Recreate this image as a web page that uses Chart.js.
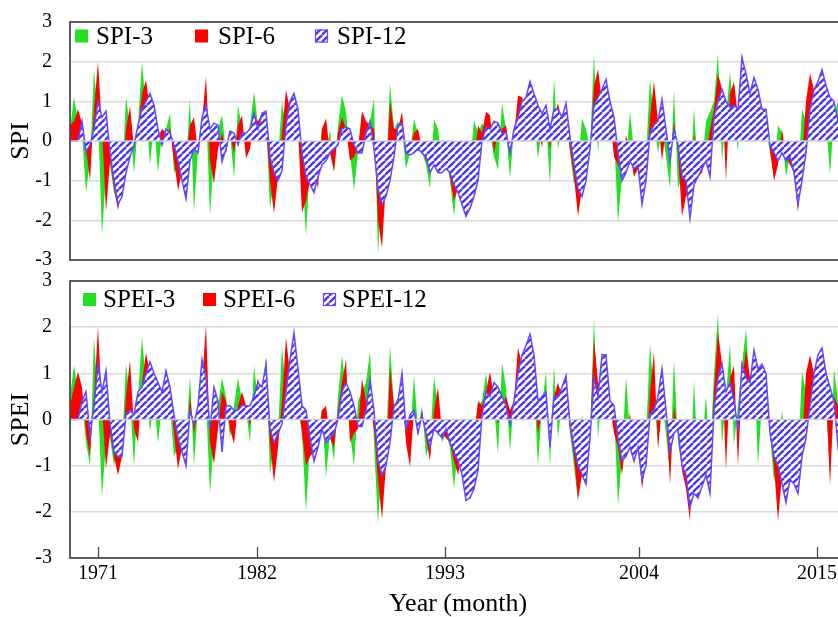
<!DOCTYPE html>
<html>
<head>
<meta charset="utf-8">
<script src="https://cdn.jsdelivr.net/npm/chart.js@4.4.1/dist/chart.umd.min.js"></script>
<style>
html,body{margin:0;padding:0;background:#fff;overflow:hidden;width:838px;height:617px;}
#c1{position:absolute;left:0;top:0;}
#c2{position:absolute;left:0;top:268px;}
</style>
</head>
<body>
<canvas id="c1" width="846" height="268"></canvas>
<canvas id="c2" width="846" height="349"></canvas>
<script>
// ---- Data (sample index along the month axis) ----
const SPI3 = [0.3,1.1,0.5,0.2,-1.3,-0.5,1.8,0.6,-2.37,-0.8,-0.6,-1.3,-1.6,-1.0,1.1,0.4,-0.8,0.4,2.0,0.8,-0.6,0.5,-0.8,0.2,0.3,0.7,-0.8,-0.6,-0.9,-0.6,1.07,-1.78,-0.2,0.5,0.9,-1.9,-0.3,0.3,0.65,-0.3,0.2,-0.94,0.9,0.3,-0.2,0.4,1.24,0.4,
0.3,0.5,-1.7,-1.0,-0.4,1.0,0.3,0.5,0.3,0.2,-0.6,-2.4,-0.5,-1.0,-0.8,0.4,-0.3,0.28,-0.77,0.4,1.16,0.74,-0.3,-1.24,-0.3,0.7,0.3,0.5,1.07,-2.87,-1.0,-0.8,1.45,0.3,0.5,0.3,-0.7,-0.3,0.55,0.2,-0.3,-0.6,-1.2,0.55,0.3,-0.5,-0.4,-1.0,-1.9,
-0.8,-0.5,-0.3,-0.6,0.53,0.2,0.45,0.3,0.2,-0.4,-0.73,0.95,0.3,-0.94,0.3,0.9,0.6,0.5,0.9,0.6,-0.44,0.4,0.5,-1.1,1.58,-0.2,0.4,0.6,-0.3,-1.1,-0.7,0.57,0.3,-0.2,2.2,-0.3,0.8,0.7,0.5,0.2,-2.05,-0.9,-0.5,0.74,-0.3,-0.5,-0.6,-0.4,
1.58,0.5,-0.3,0.3,-0.4,-1.2,1.28,-1.2,-0.9,-0.7,-1.2,0.82,-0.8,-0.6,0.49,0.74,1.0,2.2,-0.5,0.6,1.75,0.5,-0.25,2.25,0.8,0.6,0.4,0.3,0.5,0.3,-0.3,-0.9,0.4,0.2,-0.9,-0.4,-0.6,-1.0,0.8,0.5,1.2,0.8,0.6,0.8,0.5,-0.85,0.6,1.0,0.5,0.3];

const SPI6 = [0.4,0.5,0.8,0.45,-0.2,-1.0,0.8,2.0,0.3,-1.78,-0.5,-1.2,-1.74,-1.2,0.3,0.87,-0.2,0.3,1.2,1.54,0.8,0.4,0.1,0.3,0.2,0.3,-0.5,-1.24,-0.8,-0.4,0.4,0.6,-0.3,0.5,1.62,-0.5,-1.07,-0.2,0.2,-0.3,0.2,-0.3,0.4,0.65,-0.44,-0.2,0.6,0.5,
0.7,0.4,-1.0,-1.82,-0.9,0.2,1.29,0.8,0.6,0.3,-1.8,-1.5,-1.0,-0.7,-1.2,0.3,0.57,-0.3,-0.77,0.2,0.6,0.3,-0.5,-0.4,-0.2,0.75,0.5,0.4,0.3,-2.0,-2.7,-1.0,1.0,0.3,0.3,0.74,-0.3,-0.2,0.2,0.3,-0.2,-0.5,-0.8,-0.4,-0.3,-0.7,-0.5,-0.9,-1.5,
-1.2,-0.6,-0.4,-0.7,-0.5,0.4,0.2,0.74,0.65,-0.3,0.2,0.3,0.4,-0.3,0.1,1.15,1.1,0.8,1.0,0.8,0.3,-0.15,0.6,-0.2,0.6,0.95,0.5,0.7,-0.2,-0.9,-1.9,-1.2,-0.6,-0.3,1.4,1.8,1.0,0.9,0.6,-0.4,-0.6,-0.8,0.15,-0.3,-0.9,-0.7,-1.2,-0.8,
0.6,1.5,0.5,-0.5,0.3,-0.5,0.5,-0.3,-1.9,-1.4,-1.3,0.2,-0.9,-0.8,-0.4,0.3,0.8,1.7,1.3,-1.0,1.2,1.5,0.6,1.0,1.6,0.9,0.8,0.6,0.6,0.5,-0.2,-1.0,-0.6,0.3,-0.4,-0.6,-0.8,-1.8,-0.5,1.0,1.7,1.3,1.0,1.2,0.8,0.5,0.8,0.6,0.6,0.4];

const SPI12 = [0,0,0,0.5,-0.27,-0.1,0.3,1.0,0.6,0.75,-0.3,-1.0,-1.6,-1.4,-0.8,-0.4,-0.1,0.4,0.8,1.0,1.2,0.9,0.3,-0.1,0.3,0.2,-0.1,-0.5,-1.0,-1.45,-0.5,-0.2,-0.3,0.6,0.9,0.3,0.45,0.4,-0.52,-0.2,0.25,0.2,-0.1,0.2,0.2,0.3,0.7,0.3,
0.7,0.75,-0.4,-0.8,-1.0,-0.75,0.4,1.0,1.2,0.8,-0.3,-0.9,-1.1,-1.3,-0.9,-0.6,-0.5,-0.3,-0.2,-0.1,0.3,0.35,0.3,-0.1,-0.3,-0.3,0.2,0.5,-0.2,-1.2,-1.6,-1.4,-1.0,-0.4,0.4,0.45,-0.3,-0.35,-0.3,-0.2,-0.3,-0.4,-0.8,-0.6,-0.8,-0.8,-0.7,-0.8,-1.1,
-1.3,-1.6,-1.9,-1.7,-1.4,-1.0,0,0.35,0.3,0.5,0.45,0.2,0.2,-0.3,0.3,0.6,1.0,1.1,1.5,1.2,0.9,0.7,0.9,0.3,0.8,0.8,0.6,0.95,0.1,-0.6,-1.2,-1.4,-1.0,-0.2,0.9,1.1,1.3,1.55,1.0,0.6,-0.3,-1.0,-0.8,-0.5,-0.7,-0.6,-1.6,-1.0,
0.2,0.4,0.5,1.05,0.3,-0.5,0.3,-0.1,-0.9,-1.0,-1.95,-1.1,-0.9,-0.7,-0.5,-0.9,0.6,1.0,1.3,1.0,0.85,0.9,0.8,2.1,1.7,1.2,1.6,1.3,0.8,0.8,-0.1,-0.3,-0.5,-0.3,-0.5,-0.4,-0.8,-1.6,-1.0,-0.3,0.8,1.3,1.5,1.8,1.4,1.1,1.0,0.5,0.7,0.8];

const SPEI3 = [0.5,1.17,0.6,0.4,-0.5,-1.0,1.78,0.4,-1.68,-0.5,-0.4,-1.0,-0.5,-0.6,1.2,0.4,-1.0,0.5,1.78,0.8,-0.27,0.4,-0.5,0.3,0.5,0.3,-0.8,-0.6,-0.3,-0.5,0.95,-1.0,0.3,1.17,0.4,-1.6,-0.4,0.3,0.9,0.5,-0.4,0.3,0.9,0.4,0.2,-0.5,1.17,0.4,
0.5,1.35,-1.2,-0.5,-0.3,1.6,0.5,0.4,0.3,0.2,-0.3,-2.0,-0.5,-0.6,-0.4,0.27,-1.25,-0.3,-0.9,0.5,1.39,0.6,-0.3,-1.0,0.4,0.6,0.8,1.47,-0.5,-2.26,-0.8,-0.6,1.6,0.3,0.5,0.4,-0.3,-0.4,0.95,-0.2,0.3,-0.8,-0.5,0.92,0.3,-0.5,-0.3,-0.6,-1.5,
-0.6,-0.4,-0.3,-0.5,-0.3,0.3,0.4,1.0,0.3,0.3,-0.75,1.23,0.7,-0.7,0.5,0.8,1.3,0.8,0.9,0.7,-1.0,0.3,1.03,-1.03,1.17,-0.4,0.4,0.6,-0.3,-1.0,-1.8,0.1,-0.5,-0.3,2.2,-0.4,0.6,0.5,0.3,0.2,-1.86,-0.8,0.92,-0.3,-0.4,-0.5,-0.6,-0.4,
1.64,0.5,-0.56,0.4,-0.3,-1.18,1.3,-0.5,-1.0,-1.2,-1.5,0.85,-1.0,-0.6,0.5,-0.8,1.0,2.3,-0.56,0.5,1.64,-0.56,0.3,1.2,1.96,0.6,1.3,-1.0,0.4,0.5,-0.3,-1.36,-0.8,0.2,-0.6,-0.6,-0.7,-0.8,1.03,0.6,0.8,0.5,0.4,0.5,0.3,-1.2,1.1,0.4,0.3,0.2];

const SPEI6 = [0.3,0.7,1.03,0.7,-0.3,-0.78,0.5,2.0,0.3,-1.07,-0.3,-0.8,-1.2,-0.8,0.5,1.28,-0.2,-0.5,0.8,1.45,1.0,0.8,0.3,0.5,1.1,0.6,-0.3,-1.07,-0.6,-0.8,0.5,-0.3,0.2,0.8,2.04,-0.5,-0.96,-0.2,0.6,0.4,-0.2,-0.53,0.3,0.6,0.3,-0.15,0.5,0.9,
0.4,0.6,-0.5,-1.36,-0.6,0.4,1.78,1.0,0.8,0.6,-0.3,-1.0,-0.8,-0.7,-0.5,0.2,0.3,-0.4,-0.6,0.2,0.8,1.3,-0.5,-0.3,-0.2,0.88,0.4,0.3,-0.2,-1.3,-2.15,-1.0,1.13,0.3,0.4,0.6,-0.5,-1.03,0.2,-0.3,0.2,-0.4,-0.9,0.2,0.7,-0.3,-0.4,-0.5,-0.9,
-1.2,-0.7,-0.5,-0.6,-0.4,0.4,0.3,0.6,1.03,0.5,-0.1,0.3,0.5,0.2,0.4,1.56,1.2,1.0,1.2,0.8,-0.3,0.2,0.3,-0.2,0.5,0.8,0.5,0.4,-0.2,-0.8,-1.72,-1.2,-0.8,-0.4,1.75,0.8,0.7,0.6,0.3,-0.3,-0.6,-1.2,-0.4,0.15,-0.8,-0.5,-1.5,-0.9,
0.6,1.46,-0.64,0.3,0.2,-1.4,0.3,-0.3,-1.1,-1.5,-2.2,0.1,-1.3,-0.8,-0.9,-1.2,0.6,1.9,1.2,-1.1,0.9,1.17,-1.0,0.8,1.53,0.9,0.8,0.6,0.5,0.7,-0.3,-1.0,-2.2,-1.2,-1.0,-0.8,-0.8,-1.0,-0.5,1.0,1.39,1.0,0.8,0.7,0.6,-1.43,0.5,0.3,0.2,0.2];

const SPEI12 = [0,0,0,0.4,0.6,-0.35,0.3,1.2,0.6,1.05,-0.1,-0.7,-0.8,-0.8,0.1,0.2,0.1,0.6,0.7,1.0,1.25,1.0,0.8,0.6,1.05,0.7,0.1,-0.4,-0.7,-1.0,0.2,-0.1,0.3,1.3,0.9,-0.2,0.7,0.4,-0.7,0.3,0.3,0.2,0.2,0.3,0.3,0.3,0.5,0.8,
0.7,1.2,-0.2,-0.5,-0.3,-0.1,0.6,1.3,1.88,1.1,0.3,0.2,-0.4,-0.9,-0.6,-0.2,-0.5,-0.4,-0.3,0,0.6,0.8,0.6,0.3,-0.15,-0.15,0.2,0.85,0.2,-0.9,-1.2,-1.0,-0.5,0.3,0.4,1.0,-0.2,0.1,0.2,-0.3,0.1,-0.3,-0.6,-0.2,-0.3,-0.4,-0.2,-0.5,-0.7,
-0.9,-1.2,-1.75,-1.7,-1.5,-1.1,0.1,0.6,0.5,0.8,0.7,0.5,0.3,-0.1,0.4,1.0,1.4,1.6,1.85,1.4,0.4,0.5,0.6,-0.6,0.5,0.5,0.7,0.95,-0.1,-0.6,-1.0,-1.2,-1.4,-0.4,0.9,0.5,1.4,1.4,0.4,0.3,-0.4,-0.9,-0.8,-0.6,-0.9,-0.6,-1.3,-1.0,
0.1,0.2,0.5,1.1,0.2,-0.7,-0.3,-0.2,-1.0,-1.2,-1.9,-1.6,-1.7,-1.45,-1.2,-1.6,0.2,0.9,1.2,0.6,0.8,0.4,-0.2,1.2,0.9,0.8,1.5,1.1,1.2,1.0,-0.3,-0.8,-1.0,-1.4,-1.8,-1.3,-1.4,-1.6,-0.8,-0.4,0.3,1.0,1.4,1.55,1.0,0.7,0.4,-0.6,-0.3,0.1];

// Tick labels of the month axis and the sample index where each tick sits
const YEAR_LABELS = ['1971', '1982', '1993', '2004', '2015'];
const YEAR_TICK_INDEX = [7, 46.75, 93.75, 142.25, 186.75];
const Y_TICKS = [-3, -2, -1, 0, 1, 2, 3];

// ---- Styling ----
const SERIF = "'Liberation Serif', 'Times New Roman', serif";
Chart.defaults.font.family = SERIF;
Chart.defaults.color = '#000';
const GREEN = '#22e022';
const RED = '#ff0000';
const BLUE_LINE = '#6248ff';

function makeHatch() {
  const s = 7;
  const c = document.createElement('canvas');
  c.width = s; c.height = s;
  const g = c.getContext('2d');
  g.fillStyle = '#ffffff';
  g.fillRect(0, 0, s, s);
  g.strokeStyle = '#4a34ee';
  g.lineWidth = 2.3;
  g.beginPath();
  for (let k = -1; k <= 1; k++) { g.moveTo(k * s, s); g.lineTo(k * s + s, 0); }
  g.stroke();
  return g.createPattern(c, 'repeat');
}
const HATCH = makeHatch();

const toXY = arr => arr.map((v, i) => ({ x: i, y: v }));

const framePlugin = {
  id: 'frame',
  afterDatasetsDraw(chart, args, opts) {
    const { ctx, chartArea: a, scales } = chart;
    ctx.save();
    const y0 = scales.y.getPixelForValue(0);
    ctx.strokeStyle = '#d2d2d2';
    ctx.lineWidth = 1.5;
    ctx.beginPath(); ctx.moveTo(a.left, y0); ctx.lineTo(a.right, y0); ctx.stroke();
    ctx.strokeStyle = '#4d4d4d';
    ctx.lineWidth = 1.8;
    ctx.strokeRect(a.left, a.top, a.right - a.left + 20, a.bottom - a.top);
    if (opts.innerTicks) {
      ctx.lineWidth = 1.3;
      ctx.beginPath();
      scales.x.ticks.forEach(t => {
        const x = Math.round(scales.x.getPixelForValue(t.value)) + 0.5;
        ctx.moveTo(x, a.bottom); ctx.lineTo(x, a.bottom - 11);
      });
      ctx.stroke();
    }
    ctx.restore();
  }
};

// Legend drawn inside the plot frame (top-left), from the dataset labels and colours
const insideLegend = {
  id: 'insideLegend',
  afterDraw(chart, args, opts) {
    const { ctx, chartArea: a } = chart;
    ctx.save();
    ctx.font = '25px ' + SERIF;
    ctx.textBaseline = 'middle';
    ctx.textAlign = 'left';
    const cy = a.top + opts.dy;
    chart.data.datasets.forEach((ds, i) => {
      const bx = opts.boxX[i];
      ctx.fillStyle = ds.backgroundColor;
      ctx.fillRect(bx, cy - 6.5, 13, 13);
      if (ds.borderWidth) {
        ctx.strokeStyle = ds.borderColor;
        ctx.lineWidth = 1.2;
        ctx.strokeRect(bx + 0.5, cy - 6, 12, 12);
      }
      ctx.fillStyle = '#000';
      ctx.fillText(ds.label, opts.textX[i], cy + 1);
    });
    ctx.restore();
  }
};

function makeChart(canvasId, names, s3, s6, s12, yTitle, legendOpts, bottom) {
  return new Chart(document.getElementById(canvasId), {
    type: 'line',
    data: {
      datasets: [
        { label: names[0], data: toXY(s3), backgroundColor: GREEN, borderColor: GREEN, borderWidth: 0, fill: 'origin', order: 3 },
        { label: names[1], data: toXY(s6), backgroundColor: RED, borderColor: RED, borderWidth: 0, fill: 'origin', order: 2 },
        { label: names[2], data: toXY(s12), backgroundColor: HATCH, borderColor: BLUE_LINE, borderWidth: 1.5, fill: 'origin', order: 1 }
      ]
    },
    plugins: [framePlugin, insideLegend],
    options: {
      responsive: false,
      animation: false,
      devicePixelRatio: 1,
      events: [],
      layout: { padding: { top: bottom ? 13 : 22, right: 0, left: 0, bottom: 0 } },
      elements: { point: { radius: 0 }, line: { tension: 0 } },
      scales: {
        x: {
          type: 'linear', min: 0, max: SPI3.length - 1,
          afterFit(s) { s.height = bottom ? 59 : 8; },
          afterBuildTicks(s) { s.ticks = YEAR_TICK_INDEX.map(v => ({ value: v })); },
          ticks: {
            display: !!bottom, autoSkip: false, maxRotation: 0, padding: 4,
            font: { family: SERIF, size: 20 }, color: '#000',
            callback: (v) => { const k = YEAR_TICK_INDEX.indexOf(v); return k >= 0 ? YEAR_LABELS[k] : ''; }
          },
          grid: { display: false, drawTicks: false },
          border: { display: false },
          title: {
            display: !!bottom, text: 'Year (month)', color: '#000',
            font: { family: SERIF, size: 26, lineHeight: 1 }, padding: { top: 0, bottom: 0 }
          }
        },
        y: {
          min: -3, max: 3,
          afterFit(s) { s.width = 70; s.paddingTop = 8; s.paddingBottom = 8; },
          afterBuildTicks(s) { s.ticks = Y_TICKS.map(v => ({ value: v })); },
          ticks: { padding: 18, font: { family: SERIF, size: 20 }, color: '#000' },
          grid: {
            drawTicks: false, lineWidth: 1.5,
            color: c => (c.tick && Math.abs(c.tick.value) < 3 && c.tick.value !== 0) ? '#dadada' : 'rgba(0,0,0,0)'
          },
          border: { display: false },
          title: {
            display: true, text: yTitle, color: '#000',
            font: { family: SERIF, size: 26 }, padding: { top: 6, bottom: 0 }
          }
        }
      },
      plugins: {
        tooltip: { enabled: false },
        legend: { display: false },
        frame: { innerTicks: !!bottom },
        insideLegend: legendOpts
      }
    }
  });
}

makeChart('c1', ['SPI-3', 'SPI-6', 'SPI-12'], SPI3, SPI6, SPI12, 'SPI',
  { boxX: [75, 195, 315], textX: [96, 218, 337], dy: 14 }, false);
makeChart('c2', ['SPEI-3', 'SPEI-6', 'SPEI-12'], SPEI3, SPEI6, SPEI12, 'SPEI',
  { boxX: [83, 203, 323], textX: [103, 223, 342], dy: 18.5 }, true);
</script>
</body>
</html>
